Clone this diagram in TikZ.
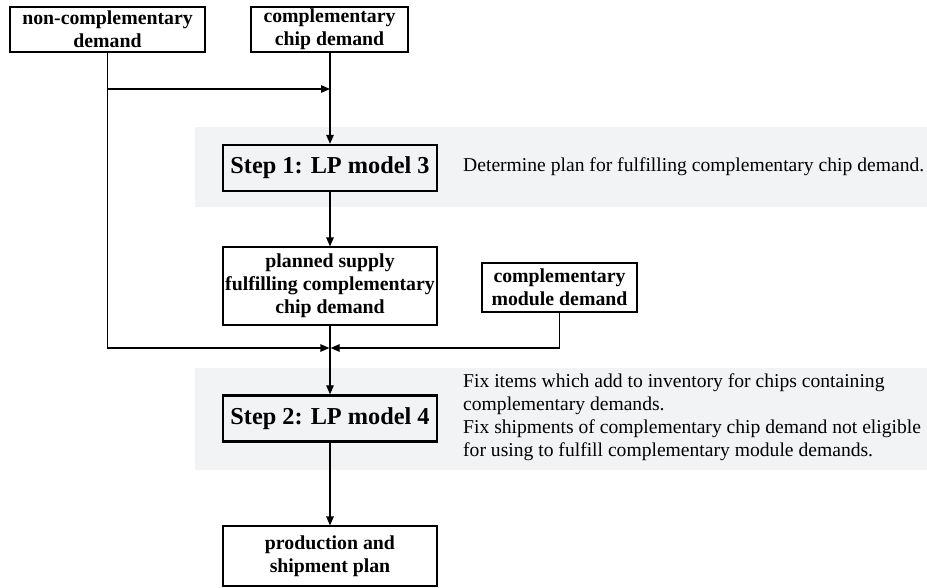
\documentclass[tikz,border=0pt]{standalone}
\usepackage{fontspec}
\setmainfont{Liberation Serif}
\usetikzlibrary{arrows.meta, positioning}

\definecolor{bandgray}{RGB}{242,243,245}

\begin{document}
\begin{tikzpicture}[
    x=1pt, y=-1pt,
    >={Triangle[length=9pt, width=7.5pt]},
    box/.style={draw, line width=1.2pt, inner sep=0pt, align=center,
        font=\fontsize{19.8}{23}\selectfont\bfseries},
    stepbox/.style={draw, line width=2.4pt, inner sep=0pt, align=center,
        minimum width=214pt, minimum height=46pt,
        font=\fontsize{24.3}{28}\selectfont\bfseries},
    note/.style={anchor=west, align=left, inner sep=0pt,
        font=\fontsize{19.6}{23}\selectfont},
    band/.style={fill=bandgray, draw=none},
    link/.style={->, line width=1.2pt},
]
    \useasboundingbox (0,0) rectangle (927,587);

    % background bands
    \fill[band] (195,127) rectangle (927,207);
    \fill[band] (195,368) rectangle (927,470);

    % inputs
    \node[box, minimum width=195pt, minimum height=45pt] (ncd) at (107.5,29.5) {non-complementary\\demand};
    \node[box, minimum width=157pt, minimum height=45pt] (ccd) at (329.5,29.5) {complementary\\chip demand};

    % step 1
    \node[stepbox] (s1) at (330,168) {Step 1: LP model 3};
    \node[note] (n1) at (463,167) {Determine plan for fulfilling complementary chip demand.};

    \node[box, minimum width=214pt, minimum height=78pt] (ps) at (330,286) {planned supply\\fulfilling complementary\\chip demand};
    \node[box, minimum width=155pt, minimum height=49pt] (cmd) at (559.5,287.5) {complementary\\module demand};

    % step 2
    \node[stepbox] (s2) at (330,418.5) {Step 2: LP model 4};
    \node[note] (n2) at (463,417) {Fix items which add to inventory for chips containing\\complementary demands.\\Fix shipments of complementary chip demand not eligible\\for using to fulfill complementary module demands.};

    \node[box, minimum width=214pt, minimum height=60pt] (pp) at (330,556) {production and\\shipment plan};

    % junctions
    \coordinate (j1) at (330,89);
    \coordinate (j2) at (330,348);

    \draw[link] (ncd.south) |- (j1);
    \draw[link, shorten >=0.6pt] (ncd.south) |- (j2);
    \draw[link, shorten >=0.6pt] (cmd.south) |- (j2);
    \draw[link] (ccd.south -| j1) -- (s1);
    \draw[link] (s1) -- (ps);
    \draw[link] (ps) -- (s2);
    \draw[link] (s2) -- (pp);
\end{tikzpicture}
\end{document}
